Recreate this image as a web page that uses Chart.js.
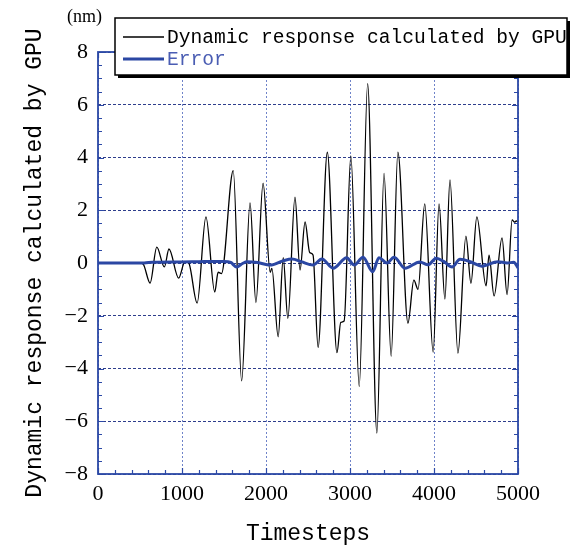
<!DOCTYPE html>
<html>
<head>
<meta charset="utf-8">
<script src="https://cdn.jsdelivr.net/npm/chart.js@4.4.1/dist/chart.umd.min.js"></script>
<style>
  html, body { margin: 0; padding: 0; background: #ffffff; }
  #wrap { width: 579px; height: 548px; position: relative; }
</style>
</head>
<body>
<div id="wrap"><canvas id="c" width="579" height="548"></canvas></div>
<script>
// ---- data ----
const responseSteps = [0, 500, 540, 620, 700, 790, 845, 960, 1035, 1080, 1180, 1285, 1390, 1430, 1470,
  1610, 1710, 1810, 1880, 1965, 2050, 2070, 2145, 2205, 2260, 2345, 2405, 2465, 2520, 2560, 2620,
  2730, 2845, 2890, 2930, 3010, 3110, 3210, 3320, 3405, 3490, 3570, 3690, 3760, 3810, 3890, 3990,
  4060, 4130, 4190, 4285, 4380, 4440, 4510, 4620, 4655, 4715, 4810, 4870, 4930, 4960, 4980, 5000];
const responseValues = [0, 0, -0.05, -0.76, 0.6, -0.15, 0.53, -0.57, 0.05, 0, -1.52, 1.75, -1.1, -0.35, -0.4,
  3.5, -4.47, 2.28, -1.5, 3.03, -0.35, -0.2, -2.8, 0.2, -2.1, 2.5, -0.27, 1.56, 0.4, 0.3, -3.2,
  4.2, -3.4, -2.25, -2.2, 4.06, -4.68, 6.8, -6.45, 3.4, -3.53, 4.2, -2.28, -0.65, -1.0, 2.24, -3.38,
  2.24, -1.37, 3.15, -3.42, 1.02, -0.77, 1.75, -0.87, 0.3, -1.25, 0.95, -1.2, 1.63, 1.55, 1.6, 1.55];

const errorSteps = [0, 550, 650, 1000, 1200, 1500, 1580, 1650, 1720, 1775, 1900, 2050, 2200, 2310, 2420,
  2560, 2665, 2800, 2960, 3050, 3155, 3270, 3345, 3440, 3525, 3655, 3830, 3930, 4025, 4120, 4215,
  4310, 4440, 4570, 4760, 4870, 4950, 5000];
const errorValues = [0, 0, 0.03, 0.04, 0.05, 0.06, 0.02, -0.15, -0.02, 0.05, 0.02, -0.08, 0.08, 0.15, 0.05,
  -0.08, 0.15, -0.2, 0.2, -0.08, 0.22, -0.33, 0.2, 0.0, 0.22, -0.2, 0.04, -0.07, 0.18, 0.05, -0.15,
  0.14, 0.04, -0.12, 0.05, 0.0, 0.03, -0.18];

const seriesNames = ['Dynamic response calculated by GPU', 'Error'];
const xTickValues = [0, 1000, 2000, 3000, 4000, 5000];
const yTickValues = [-8, -6, -4, -2, 0, 2, 4, 6, 8];
const xMinorStep = 200;
const yMinorStep = 0.5;
const unitLabel = '(nm)';
const xTitle = 'Timesteps';
const yTitle = 'Dynamic response calculated by GPU';

// ---- styles ----
const AXIS_COLOR = '#2c49a6';
const ERROR_COLOR = '#2b47a3';
const ERROR_TEXT = '#4a5db3';
const MONO = '"Liberation Mono", "DejaVu Sans Mono", monospace';
const SERIF = '"Liberation Serif", "DejaVu Serif", serif';

const toPoints = (xs, ys) => xs.map((x, i) => ({ x: x, y: ys[i] }));

const decorPlugin = {
  id: 'decor',
  afterDraw(chart) {
    const { ctx, chartArea: a, scales } = chart;
    const xs = scales.x, ys = scales.y;
    ctx.save();
    ctx.strokeStyle = AXIS_COLOR;
    ctx.lineWidth = 1.2;
    ctx.setLineDash([]);
    ctx.beginPath();
    const yMin = yTickValues[0], yMax = yTickValues[yTickValues.length - 1];
    for (let k = 0; yMin + k * yMinorStep <= yMax + 1e-9; k++) {
      const v = yMin + k * yMinorStep;
      const py = Math.round(ys.getPixelForValue(v)) + 0.5;
      const L = yTickValues.includes(v) ? 6 : 4;
      ctx.moveTo(a.left, py); ctx.lineTo(a.left + L, py);
      ctx.moveTo(a.right, py); ctx.lineTo(a.right - L, py);
    }
    const xMin = xTickValues[0], xMax = xTickValues[xTickValues.length - 1];
    for (let k = 0; xMin + k * xMinorStep <= xMax; k++) {
      const v = xMin + k * xMinorStep;
      const px = Math.round(xs.getPixelForValue(v)) + 0.5;
      const L = xTickValues.includes(v) ? 6 : 4;
      ctx.moveTo(px, a.bottom); ctx.lineTo(px, a.bottom - L);
      ctx.moveTo(px, a.top); ctx.lineTo(px, a.top + L);
    }
    ctx.stroke();
    ctx.lineWidth = 1.8;
    ctx.strokeRect(Math.round(a.left), Math.round(a.top), Math.round(a.right - a.left), Math.round(a.bottom - a.top));

    // unit label
    ctx.fillStyle = '#000';
    ctx.font = '18px ' + SERIF;
    ctx.textAlign = 'left';
    ctx.textBaseline = 'middle';
    ctx.fillText(unitLabel, 67, 17);

    // legend box
    const bx = 115, by = 18, bw = 452, bh = 57;
    ctx.fillStyle = '#000';
    ctx.fillRect(bx + 3, by + 3, bw, bh);
    ctx.fillStyle = '#fff';
    ctx.fillRect(bx, by, bw, bh);
    ctx.strokeStyle = '#000';
    ctx.lineWidth = 1.5;
    ctx.strokeRect(bx, by, bw, bh);

    const ds = chart.data.datasets;
    const rowsY = [37, 59];
    ds.forEach((d, i) => {
      ctx.beginPath();
      ctx.strokeStyle = d.borderColor;
      ctx.lineWidth = i === 0 ? 1.3 : 3;
      ctx.moveTo(123, rowsY[i]); ctx.lineTo(164, rowsY[i]);
      ctx.stroke();
      ctx.fillStyle = i === 0 ? '#000' : ERROR_TEXT;
      ctx.font = '19.6px ' + MONO;
      ctx.textBaseline = 'middle';
      ctx.fillText(d.label, 167, rowsY[i] + 1);
    });
    ctx.restore();
  }
};

new Chart(document.getElementById('c'), {
  type: 'line',
  data: {
    datasets: [
      {
        label: seriesNames[0],
        data: toPoints(responseSteps, responseValues),
        borderColor: '#000000',
        borderWidth: 1.3,
        pointRadius: 0,
        cubicInterpolationMode: 'monotone',
        fill: false,
        order: 2
      },
      {
        label: seriesNames[1],
        data: toPoints(errorSteps, errorValues),
        borderColor: ERROR_COLOR,
        borderWidth: 3,
        pointRadius: 0,
        cubicInterpolationMode: 'monotone',
        fill: false,
        order: 1
      }
    ]
  },
  options: {
    responsive: false,
    animation: false,
    events: [],
    layout: { padding: { left: 21, top: 52, right: 61, bottom: 0 } },
    plugins: { legend: { display: false }, tooltip: { enabled: false } },
    scales: {
      x: {
        type: 'linear',
        min: 0, max: 5000,
        afterFit(s) { s.height = 74; },
        afterBuildTicks(s) { s.ticks = xTickValues.map(v => ({ value: v })); },
        grid: { color: '#6f83c9', lineWidth: 1, drawTicks: false },
        border: { display: false, dash: [2, 2] },
        ticks: { color: '#000', font: { family: SERIF, size: 22 }, padding: 7, maxRotation: 0,
                 callback: v => String(v) },
        title: { display: true, text: xTitle, color: '#000', font: { family: MONO, size: 23, lineHeight: 1.2 },
                 padding: { top: 0, bottom: 0 } }
      },
      y: {
        type: 'linear',
        min: -8, max: 8,
        afterFit(s) { s.width = 77; },
        afterBuildTicks(s) { s.ticks = yTickValues.map(v => ({ value: v })); },
        grid: { color: '#2e3e8c', lineWidth: 1, drawTicks: false },
        border: { display: false, dash: [3, 2] },
        ticks: { color: '#000', font: { family: SERIF, size: 22 }, padding: 10,
                 callback: v => String(v).replace('-', '\u2212') },
        title: { display: true, text: yTitle, color: '#000', font: { family: MONO, size: 23, lineHeight: 1.2 },
                 padding: { top: 0, bottom: 0 } }
      }
    }
  },
  plugins: [decorPlugin]
});
</script>
</body>
</html>
